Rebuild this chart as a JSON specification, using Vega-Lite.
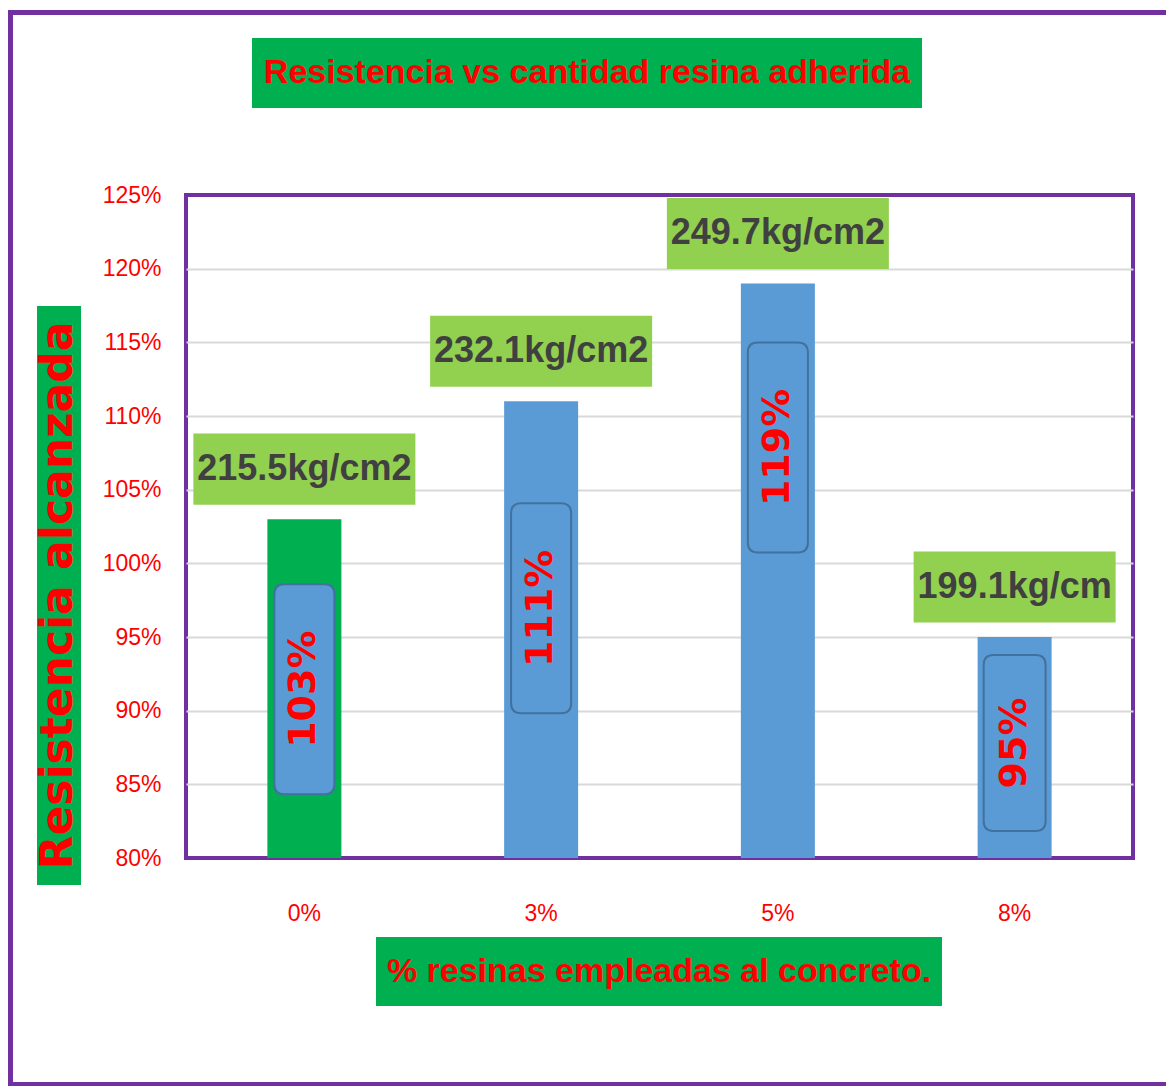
{
  "$schema": "https://vega.github.io/schema/vega-lite/v6.json",
  "background": "white",
  "padding": {"left": 8, "top": 10, "right": 0, "bottom": 0},
  "config": {"view": {"stroke": null}},
  "spacing": 0,
  "vconcat": [
    {"width": 1158, "height": 5, "data": {"values": []}, "mark": "point", "view": {"fill": "#7030A0", "stroke": null}},
    {
      "spacing": 23,
      "hconcat": [
        {"width": 5, "height": 1067, "data": {"values": []}, "mark": "point", "view": {"fill": "#7030A0", "stroke": null}},
        {
          "spacing": 0,
          "vconcat": [
            {"width": 1, "height": 23, "data": {"values": []}, "mark": "point"},
            {
              "spacing": 214,
              "hconcat": [
                {"width": 1, "height": 1, "data": {"values": []}, "mark": "point"},
                {
                  "width": 670, "height": 70,
                  "view": {"fill": "#00B050", "stroke": null},
                  "data": {"values": [{"titulo": "Resistencia vs cantidad resina adherida"}]},
                  "mark": {"type": "text", "font": "Liberation Sans", "fontSize": 34, "fontWeight": "bold", "fill": "#FF0000", "baseline": "middle", "align": "center"},
                  "encoding": {"text": {"field": "titulo"}}
                }
              ]
            },
            {"width": 1, "height": 74, "data": {"values": []}, "mark": "point"},
            {
              "spacing": 18,
              "hconcat": [
                {
                  "spacing": 0,
                  "vconcat": [
                    {"width": 1, "height": 111, "data": {"values": []}, "mark": "point"},
                    {
                      "width": 44, "height": 579,
                      "view": {"fill": "#00B050", "stroke": null},
                      "data": {"values": [{"titulo": "Resistencia alcanzada"}]},
                      "mark": {"type": "text", "angle": 270, "font": "DejaVu Sans", "fontSize": 44, "fontWeight": "bold", "fill": "#FF0000", "baseline": "middle", "align": "center"},
                      "encoding": {"text": {"field": "titulo"}}
                    }
                  ]
                },
                {
                  "spacing": 10,
                  "vconcat": [
                    {
                      "width": 947, "height": 663,
                      "view": {"stroke": "#7030A0", "strokeWidth": 4, "fill": "white"},
                      "data": {"values": [
                        {"pct": "0%", "resistencia": 1.03, "etiqueta": "215.5kg/cm2"},
                        {"pct": "3%", "resistencia": 1.11, "etiqueta": "232.1kg/cm2"},
                        {"pct": "5%", "resistencia": 1.19, "etiqueta": "249.7kg/cm2"},
                        {"pct": "8%", "resistencia": 0.95, "etiqueta": "199.1kg/cm"}
                      ]},
                      "encoding": {
                        "x": {
                          "field": "pct", "type": "nominal", "sort": null, "title": null,
                          "axis": {"labelColor": "#FF0000", "labelFont": "Liberation Sans", "labelFontSize": 23, "labelAngle": 0, "ticks": false, "tickSize": 0, "domain": false, "labelPadding": 44, "grid": false}
                        },
                        "y": {
                          "field": "resistencia", "type": "quantitative", "title": null,
                          "scale": {"domain": [0.8, 1.25], "nice": false, "zero": false},
                          "axis": {
                            "values": [0.8, 0.85, 0.9, 0.95, 1.0, 1.05, 1.1, 1.15, 1.2, 1.25],
                            "format": ".0%", "labelColor": "#FF0000", "labelFont": "Liberation Sans", "labelFontSize": 23,
                            "ticks": false, "tickSize": 0, "domain": false, "labelPadding": 25,
                            "grid": true, "gridColor": "#D9D9D9", "gridWidth": 2,
                            "gridOpacity": {"condition": {"test": "datum.value < 0.805 || datum.value > 1.245", "value": 0}, "value": 1}
                          }
                        }
                      },
                      "layer": [
                        {
                          "mark": {"type": "bar", "width": 74},
                          "encoding": {
                            "y2": {"datum": 0.8},
                            "color": {"field": "pct", "type": "nominal", "legend": null,
                              "scale": {"domain": ["0%", "3%", "5%", "8%"], "range": ["#00B050", "#5B9BD5", "#5B9BD5", "#5B9BD5"]}}
                          }
                        },
                        {
                          "mark": {"type": "point", "filled": true, "fill": "#92D050", "opacity": 1, "strokeWidth": 0, "size": 49284, "yOffset": -50},
                          "encoding": {
                            "shape": {"field": "pct", "type": "nominal", "legend": null,
                              "scale": {"domain": ["0%", "3%", "5%", "8%"], "range": [
                                "M-1,-0.32H1V0.32H-1Z",
                                "M-1,-0.32H1V0.32H-1Z",
                                "M-1,-0.32H1V0.32H-1Z",
                                "M-0.91,-0.32H0.91V0.32H-0.91Z"
                              ]}}
                          }
                        },
                        {
                          "mark": {"type": "text", "font": "Liberation Sans", "fontSize": 36, "fontWeight": "bold", "fill": "#404040", "baseline": "middle", "align": "center", "yOffset": -50},
                          "encoding": {"text": {"field": "etiqueta"}}
                        },
                        {
                          "mark": {"type": "point", "filled": true, "fill": "#5B9BD5", "stroke": "#41719C", "strokeWidth": 2, "opacity": 1, "size": 44100,
                            "yOffset": {"expr": "datum.pct === '0%' ? 170 : datum.pct === '3%' ? 207 : datum.pct === '5%' ? 164 : 106"}},
                          "encoding": {
                            "shape": {"field": "pct", "type": "nominal", "legend": null,
                              "scale": {"domain": ["0%", "3%", "5%", "8%"], "range": [
                                "M-0.19,-1H0.19Q0.286,-1 0.286,-0.905V0.905Q0.286,1 0.19,1H-0.19Q-0.286,1 -0.286,0.905V-0.905Q-0.286,-1 -0.19,-1Z",
                                "M-0.19,-1H0.19Q0.286,-1 0.286,-0.905V0.905Q0.286,1 0.19,1H-0.19Q-0.286,1 -0.286,0.905V-0.905Q-0.286,-1 -0.19,-1Z",
                                "M-0.19,-1H0.19Q0.286,-1 0.286,-0.905V0.905Q0.286,1 0.19,1H-0.19Q-0.286,1 -0.286,0.905V-0.905Q-0.286,-1 -0.19,-1Z",
                                "M-0.2,-0.838H0.2Q0.295,-0.838 0.295,-0.743V0.743Q0.295,0.838 0.2,0.838H-0.2Q-0.295,0.838 -0.295,0.743V-0.743Q-0.295,-0.838 -0.2,-0.838Z"
                              ]}}
                          }
                        },
                        {
                          "mark": {"type": "text", "angle": 270, "font": "DejaVu Sans", "fontSize": 38, "fontWeight": "bold", "fill": "#FF0000", "baseline": "middle", "align": "center",
                            "yOffset": {"expr": "datum.pct === '0%' ? 170 : datum.pct === '3%' ? 207 : datum.pct === '5%' ? 164 : 106"}},
                          "encoding": {"text": {"field": "resistencia", "type": "quantitative", "format": ".0%"}}
                        }
                      ],
                      "resolve": {"scale": {"shape": "independent"}}
                    },
                    {
                      "spacing": 189,
                      "hconcat": [
                        {"width": 1, "height": 1, "data": {"values": []}, "mark": "point"},
                        {
                          "width": 566, "height": 69,
                          "view": {"fill": "#00B050", "stroke": null},
                          "data": {"values": [{"titulo": "% resinas empleadas al concreto."}]},
                          "mark": {"type": "text", "font": "Liberation Sans", "fontSize": 34, "fontWeight": "bold", "fill": "#FF0000", "baseline": "middle", "align": "center"},
                          "encoding": {"text": {"field": "titulo"}}
                        }
                      ]
                    }
                  ]
                }
              ]
            }
          ]
        }
      ]
    },
    {"width": 1158, "height": 4, "data": {"values": []}, "mark": "point", "view": {"fill": "#7030A0", "stroke": null}}
  ]
}
